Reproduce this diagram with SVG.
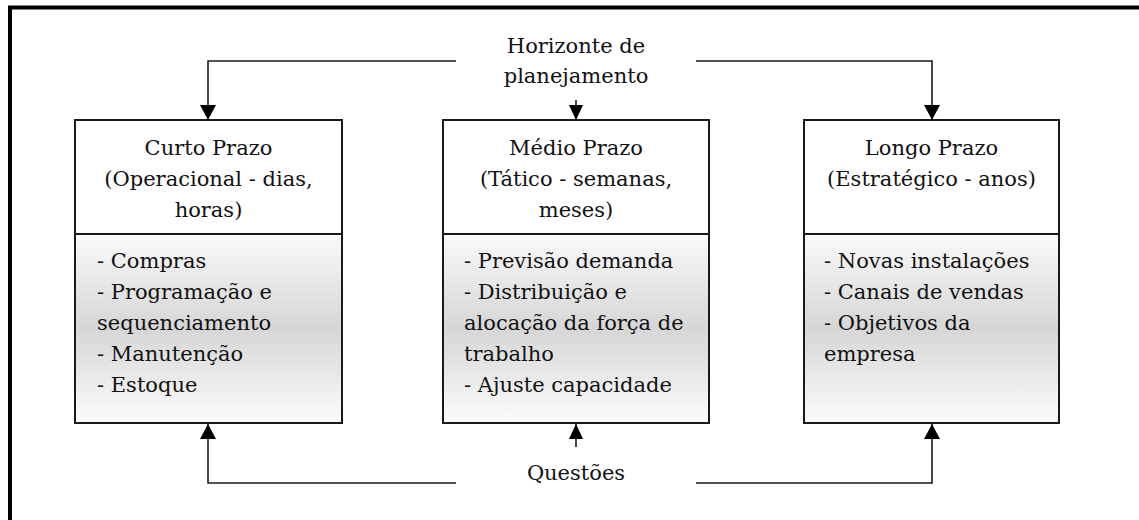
<svg xmlns="http://www.w3.org/2000/svg" width="1139" height="520" viewBox="0 0 1139 520">
<style>
text{font-family:'DejaVu Serif','Liberation Serif',serif;font-size:21px;fill:#111}
.c{text-anchor:middle}
.box{fill:#fff;stroke:#1a1a1a;stroke-width:2}
.low{fill:url(#g);stroke:#1a1a1a;stroke-width:2}
.con{fill:none;stroke:#1a1a1a;stroke-width:1.6}
</style>
<defs>
<linearGradient id="g" x1="0" y1="0" x2="0" y2="1">
<stop offset="0" stop-color="#fafafa"/>
<stop offset="0.5" stop-color="#d6d6d6"/>
<stop offset="1" stop-color="#fcfcfc"/>
</linearGradient>
<marker id="ah" markerUnits="userSpaceOnUse" markerWidth="16" markerHeight="16" refX="15" refY="8" orient="auto">
<path d="M0,0 L15,8 L0,16 Z" fill="#000"/>
</marker>
<marker id="ahs" markerUnits="userSpaceOnUse" markerWidth="16" markerHeight="14" refX="15" refY="7" orient="auto">
<path d="M0,0 L15,7 L0,14 Z" fill="#000"/>
</marker>
</defs>
<g id="frame">
<path d="M10,520 V7.5 H1139" fill="none" stroke="#000" stroke-width="4"/>
</g>
<g id="connectors">
<path class="con" d="M456,61 H208 V120" marker-end="url(#ah)"/>
<path class="con" d="M696,61 H932 V120" marker-end="url(#ah)"/>
<path class="con" d="M576,100 V120" marker-end="url(#ahs)"/>
<path class="con" d="M456,483 H208 V424" marker-end="url(#ah)"/>
<path class="con" d="M696,483 H932 V424" marker-end="url(#ah)"/>
<path class="con" d="M576,447 V424" marker-end="url(#ahs)"/>
</g>
<g id="label-horizonte">
<text class="c" x="576" y="53">Horizonte de</text>
<text class="c" x="576" y="83">planejamento</text>
</g>
<g id="label-questoes">
<text class="c" x="576" y="480">Questões</text>
</g>
<g id="curto">
<rect class="box" x="75" y="120" width="267" height="114"/>
<rect class="low" x="75" y="234" width="267" height="189"/>
<text class="c" x="208.5" y="155">Curto Prazo</text>
<text class="c" x="208.5" y="186">(Operacional - dias,</text>
<text class="c" x="208.5" y="217">horas)</text>
<text x="97" y="268">- Compras</text>
<text x="97" y="299">- Programação e</text>
<text x="97" y="330">sequenciamento</text>
<text x="97" y="361">- Manutenção</text>
<text x="97" y="392">- Estoque</text>
</g>
<g id="medio">
<rect class="box" x="443" y="120" width="266" height="114"/>
<rect class="low" x="443" y="234" width="266" height="189"/>
<text class="c" x="576" y="155">Médio Prazo</text>
<text class="c" x="576" y="186">(Tático - semanas,</text>
<text class="c" x="576" y="217">meses)</text>
<text x="464" y="268">- Previsão demanda</text>
<text x="464" y="299">- Distribuição e</text>
<text x="464" y="330">alocação da força de</text>
<text x="464" y="361">trabalho</text>
<text x="464" y="392">- Ajuste capacidade</text>
</g>
<g id="longo">
<rect class="box" x="804" y="120" width="255" height="114"/>
<rect class="low" x="804" y="234" width="255" height="189"/>
<text class="c" x="931.5" y="155">Longo Prazo</text>
<text class="c" x="931.5" y="186">(Estratégico - anos)</text>
<text x="824" y="268">- Novas instalações</text>
<text x="824" y="299">- Canais de vendas</text>
<text x="824" y="330">- Objetivos da</text>
<text x="824" y="361">empresa</text>
</g>
</svg>
